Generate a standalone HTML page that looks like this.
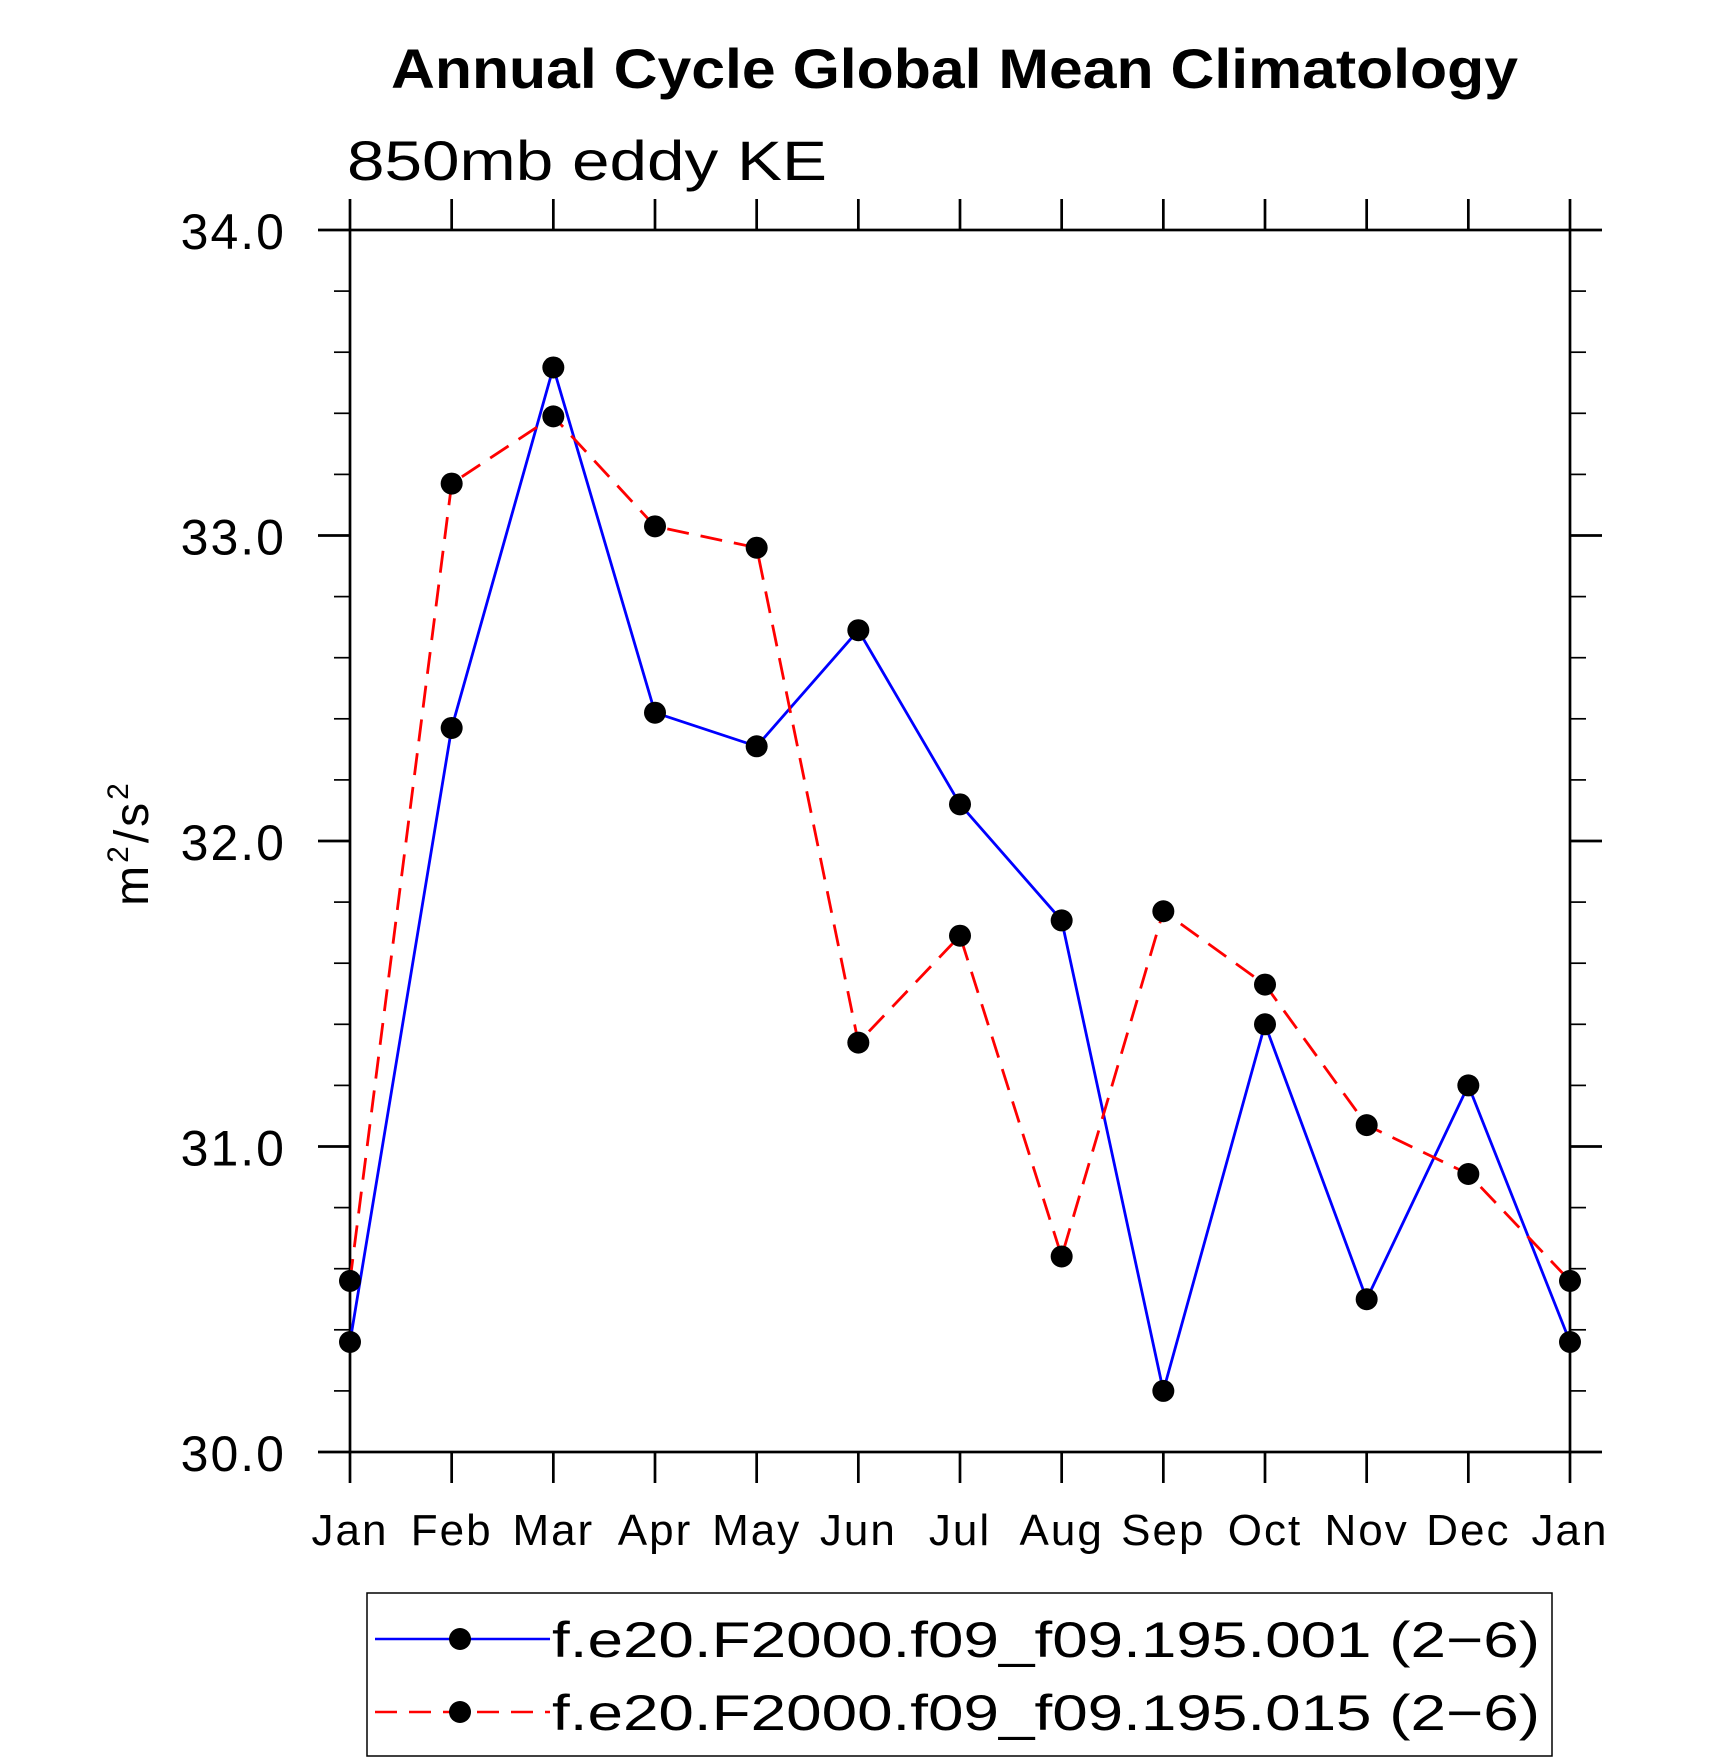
<!DOCTYPE html>
<html><head><meta charset="utf-8"><style>
html,body{margin:0;padding:0;background:#fff}
svg{display:block}
text{font-family:"Liberation Sans",sans-serif;fill:#000}
</style></head><body>
<svg id="chart" width="1710" height="1762" viewBox="0 0 1710 1762" xmlns="http://www.w3.org/2000/svg">
<text x="391" y="88" font-size="56" font-weight="bold" textLength="1127" lengthAdjust="spacingAndGlyphs">Annual Cycle Global Mean Climatology</text>
<text x="347" y="180" font-size="56" textLength="480" lengthAdjust="spacingAndGlyphs">850mb  eddy  KE</text>
<text transform="translate(148,843) rotate(-90)" text-anchor="middle" font-size="48" letter-spacing="3">m<tspan font-size="30" dy="-20">2</tspan><tspan dy="20">/s</tspan><tspan font-size="30" dy="-20">2</tspan></text>
<g id="axes"></g>
<g id="series"></g>
<g id="legend">
<rect x="367" y="1593" width="1185" height="163" fill="none" stroke="#000" stroke-width="1.5"/>
<g>
<line x1="375" y1="1639" x2="550" y2="1639" stroke="#0000ff" stroke-width="2.5"/>
<circle cx="460" cy="1639" r="11" fill="#000"/>
<text x="552" y="1657" font-size="50" textLength="988" lengthAdjust="spacingAndGlyphs">f.e20.F2000.f09_f09.195.001 (2−6)</text>
</g>
<g>
<line x1="375" y1="1712" x2="550" y2="1712" stroke="#ff0000" stroke-width="2.5" stroke-dasharray="22,12"/>
<circle cx="460" cy="1712" r="11" fill="#000"/>
<text x="552" y="1730" font-size="50" textLength="988" lengthAdjust="spacingAndGlyphs">f.e20.F2000.f09_f09.195.015 (2−6)</text>
</g>
</g>
</svg>
<script>
const months = ["Jan","Feb","Mar","Apr","May","Jun","Jul","Aug","Sep","Oct","Nov","Dec","Jan"];
const series001 = [30.36,32.37,33.55,32.42,32.31,32.69,32.12,31.74,30.20,31.40,30.50,31.20,30.36];
const series015 = [30.56,33.17,33.39,33.03,32.96,31.34,31.69,30.64,31.77,31.53,31.07,30.91,30.56];
const yTicks = ["30.0","31.0","32.0","33.0","34.0"];
const yMin = 30, yMax = 34;

const L=350,R=1570,T=230,B=1452;
const NS="http://www.w3.org/2000/svg";
function xs(i){return L+(R-L)*i/(months.length-1);}
function ys(v){return B-(B-T)*(v-yMin)/(yMax-yMin);}
function mk(tag,attrs,parent){const e=document.createElementNS(NS,tag);for(const k in attrs)e.setAttribute(k,attrs[k]);parent.appendChild(e);return e;}
const axes=document.getElementById('axes');
const ser=document.getElementById('series');
const frame=mk('rect',{x:L,y:T,width:R-L,height:B-T,fill:'none',stroke:'#000','stroke-width':2.7},axes);


months.forEach((m,i)=>{
  const x=xs(i);
  const t1=mk('line',{x1:x,y1:B,x2:x,y2:B+31,stroke:'#000','stroke-width':2.7},axes);
  
  
  const t2=mk('line',{x1:x,y1:T,x2:x,y2:T-31,stroke:'#000','stroke-width':2.7},axes);
  
  
  const lb=mk('text',{x:x,y:1545,'text-anchor':'middle','font-size':44,'letter-spacing':2},axes);
  lb.textContent=m;
  
  
});
yTicks.forEach(s=>{
  const v=parseFloat(s), y=ys(v);
  const a=mk('line',{x1:L-32,y1:y,x2:L,y2:y,stroke:'#000','stroke-width':2.7},axes);
  
  
  const b=mk('line',{x1:R,y1:y,x2:R+32,y2:y,stroke:'#000','stroke-width':2.7},axes);
  
  
  const lb=mk('text',{x:286,y:y+19,'text-anchor':'end','font-size':50,'letter-spacing':2},axes);
  lb.textContent=s;
  
  
});
for(let k=1;k<20;k++){
  if(k%5===0)continue;
  const y=ys(yMin+k*0.2);
  const a=mk('line',{x1:L-16,y1:y,x2:L,y2:y,stroke:'#000','stroke-width':1.7},axes);
  
  
  const b=mk('line',{x1:R,y1:y,x2:R+16,y2:y,stroke:'#000','stroke-width':1.7},axes);
  
  
}
function draw(vals,color,dash,name){
  const pts=vals.map((v,i)=>xs(i)+','+ys(v)).join(' ');
  const pl=mk('polyline',{points:pts,fill:'none',stroke:color,'stroke-width':2.8,'stroke-dasharray':dash},ser);
  
  
  vals.forEach((v,i)=>{
    const c=mk('circle',{cx:xs(i),cy:ys(v),r:11,fill:'#000'},ser);
    
    
  });
}
draw(series001,'#0000ff','none','series-001');
draw(series015,'#ff0000','22,12','series-015');
</script>
</body></html>
